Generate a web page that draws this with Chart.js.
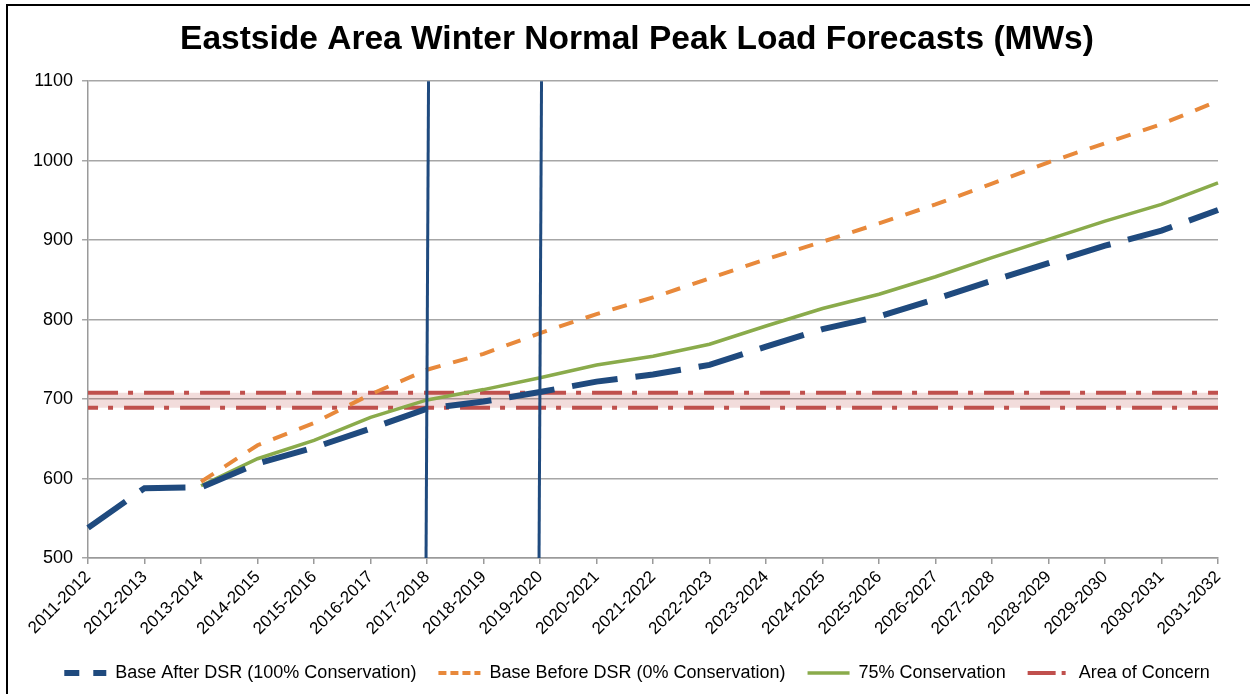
<!DOCTYPE html>
<html>
<head>
<meta charset="utf-8">
<script src="https://cdn.jsdelivr.net/npm/chart.js@4/dist/chart.umd.min.js"></script>
<style>
  body { margin: 0; background: #fff; }
  #wrap { position: relative; width: 1250px; height: 694px; }
  #frame { position: absolute; left: 6px; top: 4px; right: -10px; bottom: -10px; border: 2px solid #000; pointer-events: none; }
</style>
</head>
<body>
<div id="wrap">
  <canvas id="loadChart" width="1250" height="694"></canvas>
  <div id="frame"></div>
</div>
<script>
var years = ['2011-2012', '2012-2013', '2013-2014', '2014-2015', '2015-2016', '2016-2017', '2017-2018',
    '2018-2019', '2019-2020', '2020-2021', '2021-2022', '2022-2023', '2023-2024', '2024-2025',
    '2025-2026', '2026-2027', '2027-2028', '2028-2029', '2029-2030', '2030-2031', '2031-2032'];

var afterDsr = [538, 588, 589, 619, 639, 663, 688, 697, 709, 722, 731, 743, 766, 788, 804, 826, 849, 871, 893, 912, 938];
var beforeDsr = [null, null, 596, 642, 670, 706, 737, 757, 783, 807, 828, 852, 876, 898, 921, 945, 971, 998, 1022, 1046, 1075];
var conservation75 = [null, null, 591, 625, 648, 677, 699, 712, 727, 743, 754, 769, 792, 814, 832, 854, 878, 901, 924, 945, 972];

var concernHigh = 708;
var concernLow = 689;

var markerYears = ['2017-2018', '2019-2020'];
var yTicks = [500, 600, 700, 800, 900, 1000, 1100];

// legend dash patterns (shorter than the plot ones)
var legendDash = {
    0: [15, 14],
    1: [8, 4],
    3: [28, 6, 4, 20]
};

var verticalMarkers = {
    id: 'verticalMarkers',
    afterDatasetsDraw: function(chart) {
        var ctx = chart.ctx;
        var xs = chart.scales.x, ys = chart.scales.y;
        ctx.save();
        ctx.strokeStyle = '#1f4a7e';
        ctx.lineWidth = 3;
        markerYears.forEach(function(yr) {
            var px = xs.getPixelForValue(years.indexOf(yr));
            ctx.beginPath();
            ctx.moveTo(px + 1.5, ys.getPixelForValue(yTicks[yTicks.length - 1]));
            ctx.lineTo(px - 1, ys.getPixelForValue(yTicks[0]));
            ctx.stroke();
        });
        ctx.restore();
    }
};

document.addEventListener('DOMContentLoaded', function() {
    var ctx = document.getElementById('loadChart').getContext('2d');
    Chart.defaults.font.family = '"Liberation Sans", Arial, sans-serif';
    Chart.defaults.color = '#000';

    var loadChart = new Chart(ctx, {
        type: 'line',
        data: {
            labels: years,
            datasets: [{
                label: 'Base After DSR (100% Conservation)',
                data: afterDsr,
                borderColor: '#1f4a7e',
                backgroundColor: '#1f4a7e',
                borderWidth: 6,
                borderDash: [46, 18],
                pointRadius: 0,
                pointStyle: 'line',
                tension: 0
            }, {
                label: 'Base Before DSR (0% Conservation)',
                data: beforeDsr,
                borderColor: '#e8893b',
                backgroundColor: '#e8893b',
                borderWidth: 4,
                borderDash: [15, 13],
                pointRadius: 0,
                pointStyle: 'line',
                tension: 0
            }, {
                label: '75% Conservation',
                data: conservation75,
                borderColor: '#8aab4b',
                backgroundColor: '#8aab4b',
                borderWidth: 3.5,
                pointRadius: 0,
                pointStyle: 'line',
                tension: 0
            }, {
                label: 'Area of Concern',
                data: years.map(function() { return concernHigh; }),
                borderColor: '#c0504d',
                backgroundColor: 'rgba(192, 80, 77, 0.2)',
                borderWidth: 4,
                borderDash: [30, 10, 5, 11],
                pointRadius: 0,
                pointStyle: 'line',
                fill: '+1'
            }, {
                label: 'concernLow',
                data: years.map(function() { return concernLow; }),
                borderColor: '#c0504d',
                borderWidth: 4,
                borderDash: [30, 10, 5, 11],
                borderDashOffset: 20,
                pointRadius: 0,
                pointStyle: 'line',
                fill: false
            }]
        },
        options: {
            responsive: false,
            animation: false,
            layout: {
                padding: { left: 24, right: 0, top: 4, bottom: 2 }
            },
            plugins: {
                title: {
                    display: true,
                    text: 'Eastside Area Winter Normal Peak Load Forecasts (MWs)',
                    font: { size: 33.5, weight: 'bold' },
                    padding: { top: 16, bottom: 21 }
                },
                legend: {
                    position: 'bottom',
                    labels: {
                        usePointStyle: true,
                        pointStyleWidth: 42,
                        padding: 22,
                        font: { size: 18 },
                        filter: function(item) { return item.text !== 'concernLow'; },
                        generateLabels: function(chart) {
                            var items = Chart.defaults.plugins.legend.labels.generateLabels(chart);
                            items.forEach(function(it) {
                                if (legendDash[it.datasetIndex]) it.lineDash = legendDash[it.datasetIndex];
                                it.fillStyle = it.strokeStyle;
                            });
                            return items;
                        }
                    }
                },
                tooltip: { enabled: false }
            },
            scales: {
                x: {
                    offset: false,
                    grid: { drawOnChartArea: false, color: '#9a9a9a', lineWidth: 1.5, tickLength: 6 },
                    border: { color: '#9a9a9a', width: 1.5 },
                    ticks: { minRotation: 45, maxRotation: 45, font: { size: 17 }, autoSkip: false }
                },
                y: {
                    min: yTicks[0],
                    max: yTicks[yTicks.length - 1],
                    afterBuildTicks: function(axis) {
                        axis.ticks = yTicks.map(function(v) { return { value: v }; });
                    },
                    grid: { color: '#a6a6a6', lineWidth: 1.5, tickLength: 6 },
                    border: { color: '#9a9a9a', width: 1.5 },
                    ticks: {
                        font: { size: 18 },
                        padding: 9,
                        callback: function(v) { return String(v); }
                    }
                },
                // empty spacer on the right so the plot stops short of the edge
                spacer: {
                    type: 'linear',
                    position: 'right',
                    grid: { drawOnChartArea: false, drawTicks: false },
                    border: { display: false },
                    ticks: { display: false },
                    afterFit: function(axis) { axis.width = 32; }
                }
            }
        },
        plugins: [verticalMarkers]
    });
});
</script>
</body>
</html>
